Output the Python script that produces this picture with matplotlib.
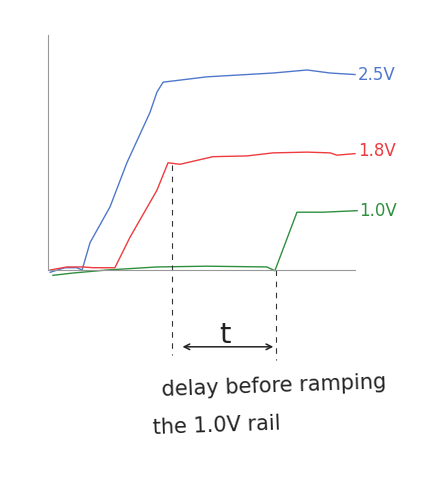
import numpy as np
import matplotlib.pyplot as plt

# sketch curves (time in arbitrary units, voltage in V)
t_25 = [0.7, 5.5, 9.4, 11.1, 13.7, 20.2, 25.7, 33.2, 35.5, 37.5, 51.8, 73.3, 84.4, 91.9, 100]
v_25 = [-0.03, 0.03, 0.03, 0.0, 0.36, 0.83, 1.41, 2.07, 2.34, 2.47, 2.54, 2.59, 2.63, 2.59, 2.57]

t_18 = [0.7, 6.2, 11.4, 14.7, 21.8, 26.7, 35.5, 39.1, 43.0, 53.7, 64.8, 73.3, 84.4, 91.9, 94.1, 100]
v_18 = [0.0, 0.04, 0.04, 0.03, 0.03, 0.43, 1.05, 1.41, 1.39, 1.49, 1.50, 1.54, 1.55, 1.54, 1.51, 1.53]

t_10 = [1.6, 8.1, 19.2, 35.5, 51.8, 71.3, 73.9, 81.1, 89.6, 100.7]
v_10 = [-0.07, -0.04, 0.0, 0.04, 0.05, 0.04, -0.01, 0.76, 0.76, 0.78]

rail_names = ['2.5V', '1.8V', '1.0V']
rail_colors = ['#4f78cc', '#ee3b3f', '#2f8f3f']

t_start = 40.4   # 1.8V reaches its level
t_ramp = 74.3    # 1.0V starts ramping

fig = plt.figure(figsize=(4.36, 4.79), dpi=100)
ax = fig.add_axes([48/436, (479-270)/479, 307/436, 235/479])
ax.set_xlim(0, 100)
ax.set_ylim(0, 3.09)

for t, v, c in zip([t_25, t_18, t_10], [v_25, v_18, v_10], rail_colors):
    ax.plot(t, v, color=c, lw=1, clip_on=False)

ax.text(101, 2.57, rail_names[0], color=rail_colors[0], fontsize=12, va='center', ha='left')
ax.text(101, 1.56, rail_names[1], color=rail_colors[1], fontsize=12, va='center', ha='left')
ax.text(101.5, 0.78, rail_names[2], color=rail_colors[2], fontsize=12, va='center', ha='left')

# dashed markers
ax.plot([t_start, t_start], [1.38, -1.12], ls=(0, (5, 5)), color='#333333', lw=0.8, clip_on=False)
ax.plot([t_ramp, t_ramp], [0.0, -1.18], ls=(0, (5, 5)), color='#333333', lw=0.8, clip_on=False)

ax.annotate('', xy=(t_start + 2.5, -1.01), xytext=(t_ramp, -1.01),
            arrowprops=dict(arrowstyle='<->', color='#222222', lw=1.1), annotation_clip=False)
ax.text(57.5, -0.86, 't', fontsize=21, ha='center', va='center', color='#222222')

ax.text(37, -1.53, 'delay before ramping', fontsize=15, ha='left', va='center',
        color='#222222', rotation=2, clip_on=False)
ax.text(34, -2.05, 'the 1.0V rail', fontsize=15, ha='left', va='center',
        color='#222222', rotation=2, clip_on=False)

for s in ['top', 'right']:
    ax.spines[s].set_visible(False)
ax.spines['left'].set_color('#999999')
ax.spines['bottom'].set_color('#999999')
ax.set_xticks([])
ax.set_yticks([])
ax.patch.set_alpha(0)

fig.savefig('out.png', dpi=100)
